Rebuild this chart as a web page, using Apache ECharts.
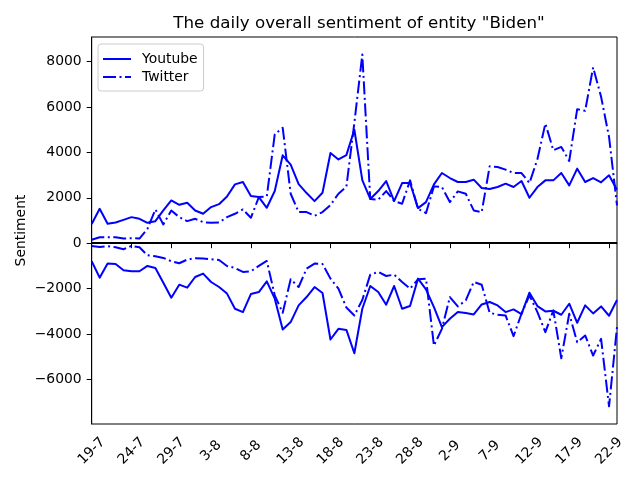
<!DOCTYPE html>
<html>
<head>
<meta charset="utf-8">
<script src="https://cdn.jsdelivr.net/npm/echarts@6/dist/echarts.min.js"></script>
<style>
  html, body { margin: 0; padding: 0; background: #fff; }
  #mainChart { width: 640px; height: 480px; }
</style>
</head>
<body>
<div id="mainChart"></div>
<script>
// days, 19-7 .. 23-9
var days = [
  '19-7', '20-7', '21-7', '22-7', '23-7', '24-7', '25-7', '26-7', '27-7', '28-7', '29-7', '30-7', '31-7',
  '1-8', '2-8', '3-8', '4-8', '5-8', '6-8', '7-8', '8-8', '9-8', '10-8', '11-8', '12-8', '13-8', '14-8',
  '15-8', '16-8', '17-8', '18-8', '19-8', '20-8', '21-8', '22-8', '23-8', '24-8', '25-8', '26-8', '27-8',
  '28-8', '29-8', '30-8', '31-8',
  '1-9', '2-9', '3-9', '4-9', '5-9', '6-9', '7-9', '8-9', '9-9', '10-9', '11-9', '12-9', '13-9', '14-9',
  '15-9', '16-9', '17-9', '18-9', '19-9', '20-9', '21-9', '22-9', '23-9'
]

// positive / negative sentiment per source
var youtubePos = [
  850, 1517, 854, 913, 1030, 1149, 1075, 898, 972, 1443, 1885, 1694, 1782,
  1443, 1296, 1591, 1720, 2060, 2592, 2696, 2077, 2033, 1561, 2298, 3874, 3462, 2607,
  2210, 1856, 2224, 3977, 3690, 3880, 5000, 2780, 1950, 2300, 2740, 1856, 2651,
  2651, 1547, 1812, 2592,
  3093, 2872, 2696, 2696, 2799, 2430, 2386, 2475, 2622, 2475, 2740, 2003, 2475, 2769,
  2769, 3093, 2548, 3285, 2696, 2872, 2681, 2990, 2357
]
var youtubeNeg = [
  -795, -1517, -898, -913, -1193, -1237, -1237, -1002, -1090, -1738, -2401, -1827, -1959,
  -1488, -1340, -1709, -1930, -2220, -2887, -3034, -2239, -2151, -1679, -2445, -3800, -3476, -2740,
  -2372, -1930, -2195, -4242, -3771, -3820, -4846, -2887, -1885, -2151, -2710, -1885, -2887,
  -2769, -1561, -2033, -2814,
  -3697, -3329, -3034, -3079, -3137, -2700, -2592, -2740, -3034, -2917, -3123, -2180, -2769, -3005,
  -2976, -3152, -2666, -3506, -2740, -3093, -2784, -3196, -2504
]
var twitterPos = [
  150, 265, 265, 265, 206, 221, 206, 633, 1488, 825, 1443, 1149, 972,
  1075, 928, 898, 910, 1149, 1296, 1488, 1120, 2033, 2062, 4802, 5082, 2180, 1370,
  1370, 1208, 1370, 1680, 2180, 2490, 5300, 8310, 1950, 1915, 2298, 1856, 1738,
  2769, 1517, 1326, 2504,
  2475, 1812, 2283, 2180, 1444, 1370, 3388, 3358, 3241, 3093, 3093, 2651, 3700, 5273,
  4095, 4242, 3624, 5907, 5833, 7748, 6452, 4684, 1665
]
var twitterNeg = [
  -118, -162, -133, -177, -265, -118, -177, -530, -575, -648, -795, -884, -722,
  -663, -678, -707, -740, -1002, -1090, -1267, -1237, -1002, -781, -2300, -3064, -1591, -1930,
  -1120, -899, -913, -1561, -2003, -2835, -3182, -2500, -1385, -1267, -1444, -1385, -1709,
  -2003, -1591, -1561, -4508,
  -3771, -2372, -2784, -2519, -1709, -1827, -3064, -3152, -3182, -4095, -3108, -2298, -3034, -3918,
  -2961, -5067, -3108, -4360, -4065, -4949, -4213, -7188, -3697
]

var fontName = 'DejaVu Sans'
var blue = '#0000ff'
var dashDot = [13, 3.5, 2, 3.5]

// legend icons (28x14 box, corner points keep the box size)
var iconSolid = 'path://M0,0L0,0.01L0.01,0Z M0,6L28,6L28,8L0,8Z M28,14L28,13.99L27.99,14Z'
var iconDashDot = 'path://M0,0L0,0.01L0.01,0Z M0,6L13,6L13,8L0,8Z M16.5,6L18.5,6L18.5,8L16.5,8Z ' +
  'M22,6L28,6L28,8L22,8Z M28,14L28,13.99L27.99,14Z'

function lineSeries (name, data, dashed) {
  return {
    name: name,
    type: 'line',
    data: data,
    symbol: 'none',
    smooth: false,
    color: blue,
    lineStyle: { color: blue, width: 2, type: dashed ? dashDot : 'solid', join: 'round' },
    z: 3
  }
}

var chartReport = echarts.init(document.getElementById('mainChart'), null, { renderer: 'canvas' })

var series = [
  lineSeries('Youtube', youtubePos, false),
  lineSeries('Youtube', youtubeNeg, false),
  lineSeries('Twitter', twitterPos, true),
  lineSeries('Twitter', twitterNeg, true)
]
// zero line
series[0].markLine = {
  silent: true,
  symbol: 'none',
  label: { show: false },
  lineStyle: { color: '#000', width: 2, type: 'solid' },
  data: [{ yAxis: 0 }]
}

chartReport.setOption({
  animation: false,
  backgroundColor: '#fff',
  title: {
    text: 'The daily overall sentiment of entity "Biden"',
    left: 354,
    top: 10,
    textAlign: 'center',
    textStyle: { fontFamily: fontName, fontSize: 16.7, fontWeight: 'normal', color: '#000' }
  },
  legend: {
    orient: 'vertical',
    left: 98,
    top: 44,
    data: [
      { name: 'Youtube', icon: iconSolid },
      { name: 'Twitter', icon: iconDashDot }
    ],
    itemWidth: 28,
    itemHeight: 14,
    itemGap: 4,
    padding: [8, 6, 7, 5],
    backgroundColor: '#fff',
    borderColor: '#cccccc',
    borderWidth: 1,
    borderRadius: 3,
    itemStyle: { color: blue, borderWidth: 0 },
    textStyle: { fontFamily: fontName, fontSize: 13.9, color: '#000', padding: [0, 0, 0, 6] }
  },
  grid: {
    left: 91.7,
    right: 23,
    top: 37,
    bottom: 56,
    show: true,
    borderColor: '#000',
    borderWidth: 1,
    containLabel: false
  },
  xAxis: {
    type: 'category',
    data: days,
    boundaryGap: false,
    axisLine: { show: true, lineStyle: { color: '#000', width: 1 } },
    axisTick: { show: true, interval: 4, length: 5, lineStyle: { color: '#000' } },
    axisLabel: {
      interval: 4,
      rotate: 45,
      align: 'center',
      verticalAlign: 'middle',
      margin: 27,
      fontFamily: fontName,
      fontSize: 13.9,
      color: '#000'
    },
    splitLine: { show: false }
  },
  yAxis: {
    type: 'value',
    min: -7965,
    max: 9085,
    splitNumber: 8,
    name: 'Sentiment',
    nameLocation: 'middle',
    nameGap: 63,
    nameMoveOverlap: false,
    nameTextStyle: { fontFamily: fontName, fontSize: 13.9, color: '#000' },
    axisLine: { show: true, lineStyle: { color: '#000', width: 1 } },
    axisTick: { show: true, length: 5, lineStyle: { color: '#000' } },
    axisLabel: {
      margin: 10,
      showMinLabel: false,
      showMaxLabel: false,
      fontFamily: fontName,
      fontSize: 13.9,
      color: '#000',
      formatter: function (v) { return String(v).replace('-', '\u2212') }
    },
    splitLine: { show: false }
  },
  series: series
})
</script>
</body>
</html>
